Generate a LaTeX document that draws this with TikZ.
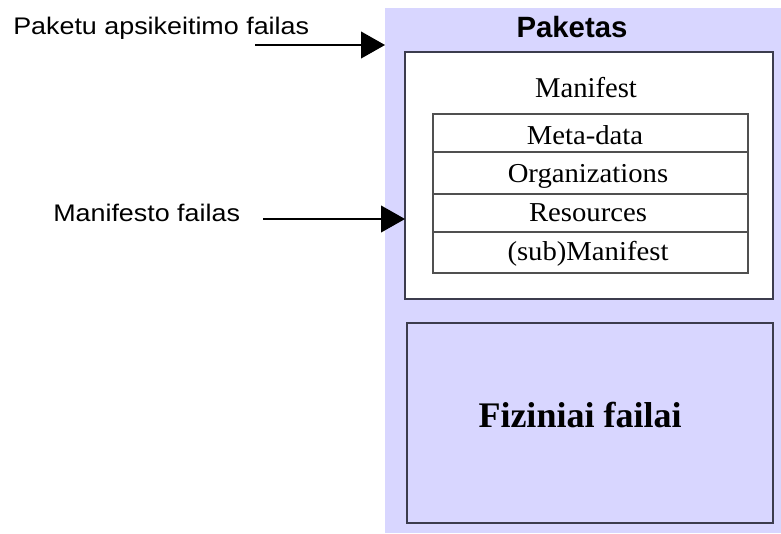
\documentclass[tikz,border=0pt]{standalone}
\usepackage{fontspec}
\setmainfont{Liberation Serif}
\newfontfamily\labelfont{Liberation Sans}
\usetikzlibrary{arrows.meta,fit}

\definecolor{lav}{RGB}{216,214,255}
\definecolor{frame}{RGB}{60,60,78}
\definecolor{rowline}{RGB}{80,80,80}

\tikzset{
  area/.style={inner sep=0pt, outer sep=0pt},
  sidelabel/.style={anchor=base west, inner sep=0pt, font=\labelfont\fontsize{18}{20}\selectfont},
  rowtext/.style={anchor=base, inner sep=0pt, font=\fontsize{20.5}{22}\selectfont},
  pointer/.style={line width=1.5pt, -{Triangle[length=18pt,width=20pt]}},
}

\begin{document}
\begin{tikzpicture}[x=0.75pt, y=-0.75pt]
  \useasboundingbox (0,0) rectangle (781,533);
  \fill[white] (0,0) rectangle (781,533);

  % package area
  \node[area, fit={(385,8) (781,533)}, fill=lav] (pkg) {};
  \node[anchor=base, inner sep=0pt, font=\labelfont\bfseries\fontsize{22}{24}\selectfont]
    (pkgtitle) at (572,37) {Paketas};

  % manifest box
  \node[area, fit={(405,52) (773,299)}, fill=white, draw=frame, line width=1.5pt] (man) {};
  \node[rowtext, font=\fontsize{21.5}{23}\selectfont] (mantitle) at (586,97) {Manifest};

  % manifest table
  \node[area, fit={(433,114) (748,273)}, draw=rowline, line width=1.1pt] (tbl) {};
  \coordinate (r1) at (433,152);
  \coordinate (r2) at (433,194);
  \coordinate (r3) at (433,232);
  \draw[rowline, line width=1.1pt] (r1) -- (r1 -| tbl.east);
  \draw[rowline, line width=1.1pt] (r2) -- (r2 -| tbl.east);
  \draw[rowline, line width=1.1pt] (r3) -- (r3 -| tbl.east);
  \node[rowtext] (meta) at (585,144) {\scalebox{1.05}[1]{Meta-data}};
  \node[rowtext] (orgs) at (588,182) {\scalebox{1.05}[1]{Organizations}};
  \node[rowtext] (res)  at (588,221) {\scalebox{1.05}[1]{Resources}};
  \node[rowtext] (sub)  at (588,260) {\scalebox{1.05}[1]{(sub)Manifest}};

  % physical files box
  \node[area, fit={(407,323) (773,523)}, fill=lav, draw=frame, line width=1.5pt] (files) {};
  \node[anchor=base, inner sep=0pt, font=\bfseries\fontsize{27}{30}\selectfont]
    (filestext) at (580,427) {Fiziniai failai};

  % side labels and pointers
  \node[sidelabel] (lbl1) at (13,34) {\scalebox{1.12}[1]{Paketu apsikeitimo failas}};
  \node[sidelabel] (lbl2) at (53,221) {\scalebox{1.12}[1]{Manifesto failas}};
  \coordinate (a1s) at (255,45);
  \coordinate (a2s) at (263,219);
  \draw[pointer] (a1s) -- (a1s -| pkg.west);
  \draw[pointer] (a2s) -- (a2s -| man.west);
\end{tikzpicture}
\end{document}
